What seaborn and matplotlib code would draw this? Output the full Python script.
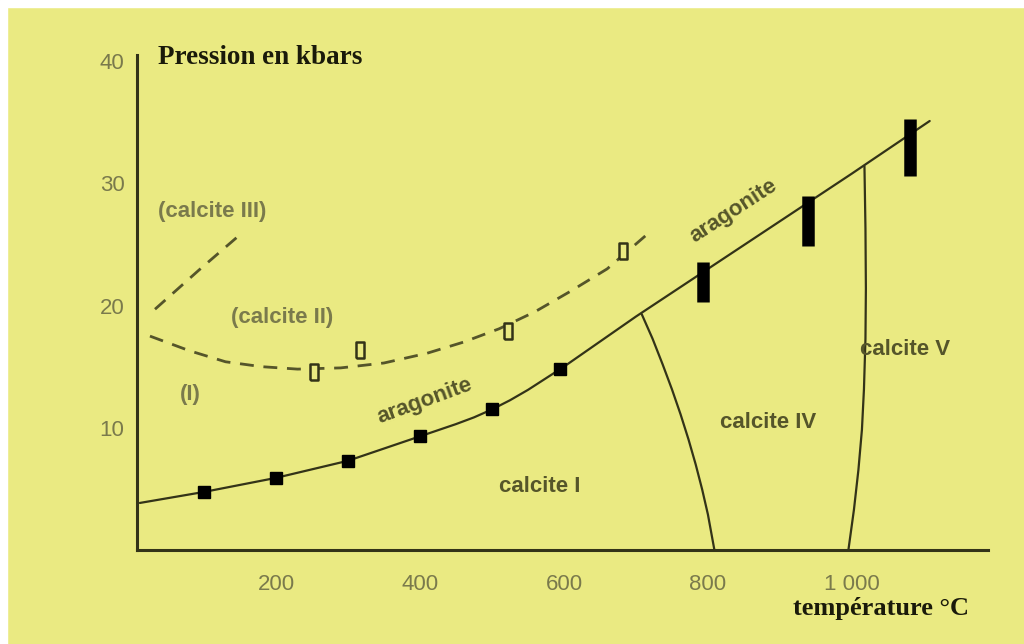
import numpy as np
import pandas as pd
import matplotlib
matplotlib.use("Agg")
import matplotlib.pyplot as plt
from matplotlib.patches import Rectangle
import seaborn as sns

# courbe aragonite / calcite I (trait plein)
T_arag = [11, 100, 200, 300, 400, 450, 475, 500, 525, 550, 575, 600, 700, 800, 900, 1000, 1108]
P_arag = [3.85, 4.75, 5.9, 7.3, 9.3, 10.3, 10.85, 11.5, 12.25, 13.1, 14.05, 15.0, 19.1, 23.0, 26.9, 30.8, 35.1]

# points experimentaux (carres pleins)
T_pts = [100, 200, 300, 400, 500, 595]
P_pts = [4.75, 5.9, 7.3, 9.3, 11.5, 14.8]

# barres haute temperature
T_bar = [793, 939, 1081]
P_bar_bas = [20.3, 24.9, 30.6]
P_bar_haut = [23.6, 29.0, 35.3]

# limite calcite II / I (tirets)
T_c2 = [25, 80, 130, 180, 230, 290, 350, 410, 460, 510, 560, 610, 660, 717]
P_c2 = [17.5, 16.3, 15.4, 15.0, 14.8, 14.9, 15.3, 16.1, 17.0, 18.1, 19.5, 21.2, 23.0, 25.9]
# carres vides
T_open = [253, 317, 522, 682]
P_open = [14.6, 16.4, 17.9, 24.5]

# limite calcite III / II (tirets)
T_c3 = [32, 93, 154]
P_c3 = [19.7, 22.9, 26.0]

# limite calcite I / IV
T_c4 = [708, 723, 737, 750, 762, 773, 783, 792, 800, 809]
P_c4 = [19.3, 17.3, 15.2, 13.15, 11.1, 9.05, 7.0, 4.95, 2.9, 0]

# limite calcite IV / V
T_c5 = [1017.4, 1018.8, 1019.4, 1018.8, 1016.7, 1013.9, 1009, 1002.8, 995.1]
P_c5 = [31.4, 26.3, 21.4, 17.3, 13.15, 9.85, 6.55, 3.3, 0]

x_ticks = [200, 400, 600, 800, 1000]
x_labels = ["200", "400", "600", "800", "1 000"]
y_ticks = [10, 20, 30, 40]

jaune = "#EAEA82"
fonce = "#333318"
olive = "#55552a"
gris = "#7a7a4c"

sns.set_theme(style="white")
plt.rcParams['font.family'] = ['Liberation Sans', 'DejaVu Sans']

fig = plt.figure(figsize=(10.24, 6.44), dpi=100)
fig.patch.set_facecolor(jaune)
# bord blanc en haut et a gauche
fig.add_artist(Rectangle((0, 0), 7/1024, 1, transform=fig.transFigure, color="white", zorder=0))
fig.add_artist(Rectangle((0, 1 - 7/644), 1, 7/644, transform=fig.transFigure, color="white", zorder=0))

ax = fig.add_axes([137/1024, 94/644, (988-137)/1024, (550-55)/644])
ax.set_facecolor(jaune)

sns.lineplot(x=T_arag, y=P_arag, ax=ax, color=fonce, linewidth=1.6, sort=False, estimator=None)
sns.lineplot(x=T_c4, y=P_c4, ax=ax, color=fonce, linewidth=1.6, sort=False, estimator=None)
sns.lineplot(x=T_c5, y=P_c5, ax=ax, color=fonce, linewidth=1.6, sort=False, estimator=None)
sns.lineplot(x=T_c2, y=P_c2, ax=ax, color=olive, linewidth=2.0, sort=False, estimator=None)
ax.lines[-1].set_dashes([5, 3.5])
sns.lineplot(x=T_c3, y=P_c3, ax=ax, color=olive, linewidth=2.0, sort=False, estimator=None)
ax.lines[-1].set_dashes([5, 3.5])

ax.plot(T_pts, P_pts, ls="none", marker="s", ms=9, color="black", zorder=5)
rect = [(-0.5, -1), (0.5, -1), (0.5, 1), (-0.5, 1), (-0.5, -1)]
ax.plot(T_open, P_open, ls="none", marker=rect, ms=12, mfc=jaune, mec=fonce, mew=1.8, zorder=5)
ax.vlines(T_bar, P_bar_bas, P_bar_haut, color="black", linewidth=9, zorder=5)

# textes des domaines
st = dict(fontsize=16, fontweight="bold", ha="center", va="center")
ax.text(111, 27.7, "(calcite III)", color=gris, **st)
ax.text(208, 19.0, "(calcite II)", color=gris, **st)
ax.text(81, 12.7, "(I)", color=gris, **st)
ax.text(407, 12.2, "aragonite", color=olive, rotation=20, rotation_mode="anchor", **st)
ax.text(835, 27.7, "aragonite", color=olive, rotation=33, rotation_mode="anchor", **st)
ax.text(567, 5.2, "calcite I", color=olive, **st)
ax.text(883, 10.4, "calcite IV", color=olive, **st)
ax.text(1074, 16.4, "calcite V", color=olive, **st)

ax.text(36, 40.3, "Pression en kbars", family="Liberation Serif", fontsize=19.5,
        fontweight="bold", color="#1a1a0a", ha="left", va="center", clip_on=False)
ax.text(1040, -4.77, "température °C", family="Liberation Serif", fontsize=19,
        fontweight="bold", color="#1a1a0a", ha="center", va="center", clip_on=False)

ax.set_xlim(7, 1189)
ax.set_ylim(0, 40.5)
ax.set_xticks(x_ticks)
ax.set_xticklabels(x_labels)
ax.set_yticks(y_ticks)
ax.tick_params(axis="x", length=0, pad=17, labelsize=16, labelcolor=gris)
ax.tick_params(axis="y", length=0, pad=9, labelsize=16, labelcolor=gris)
ax.set_xlabel("")
ax.set_ylabel("")
for s in ["top", "right"]:
    ax.spines[s].set_visible(False)
for s in ["left", "bottom"]:
    ax.spines[s].set_color(fonce)
    ax.spines[s].set_linewidth(2.2)

fig.savefig("out.png", dpi=100, facecolor=fig.get_facecolor())
